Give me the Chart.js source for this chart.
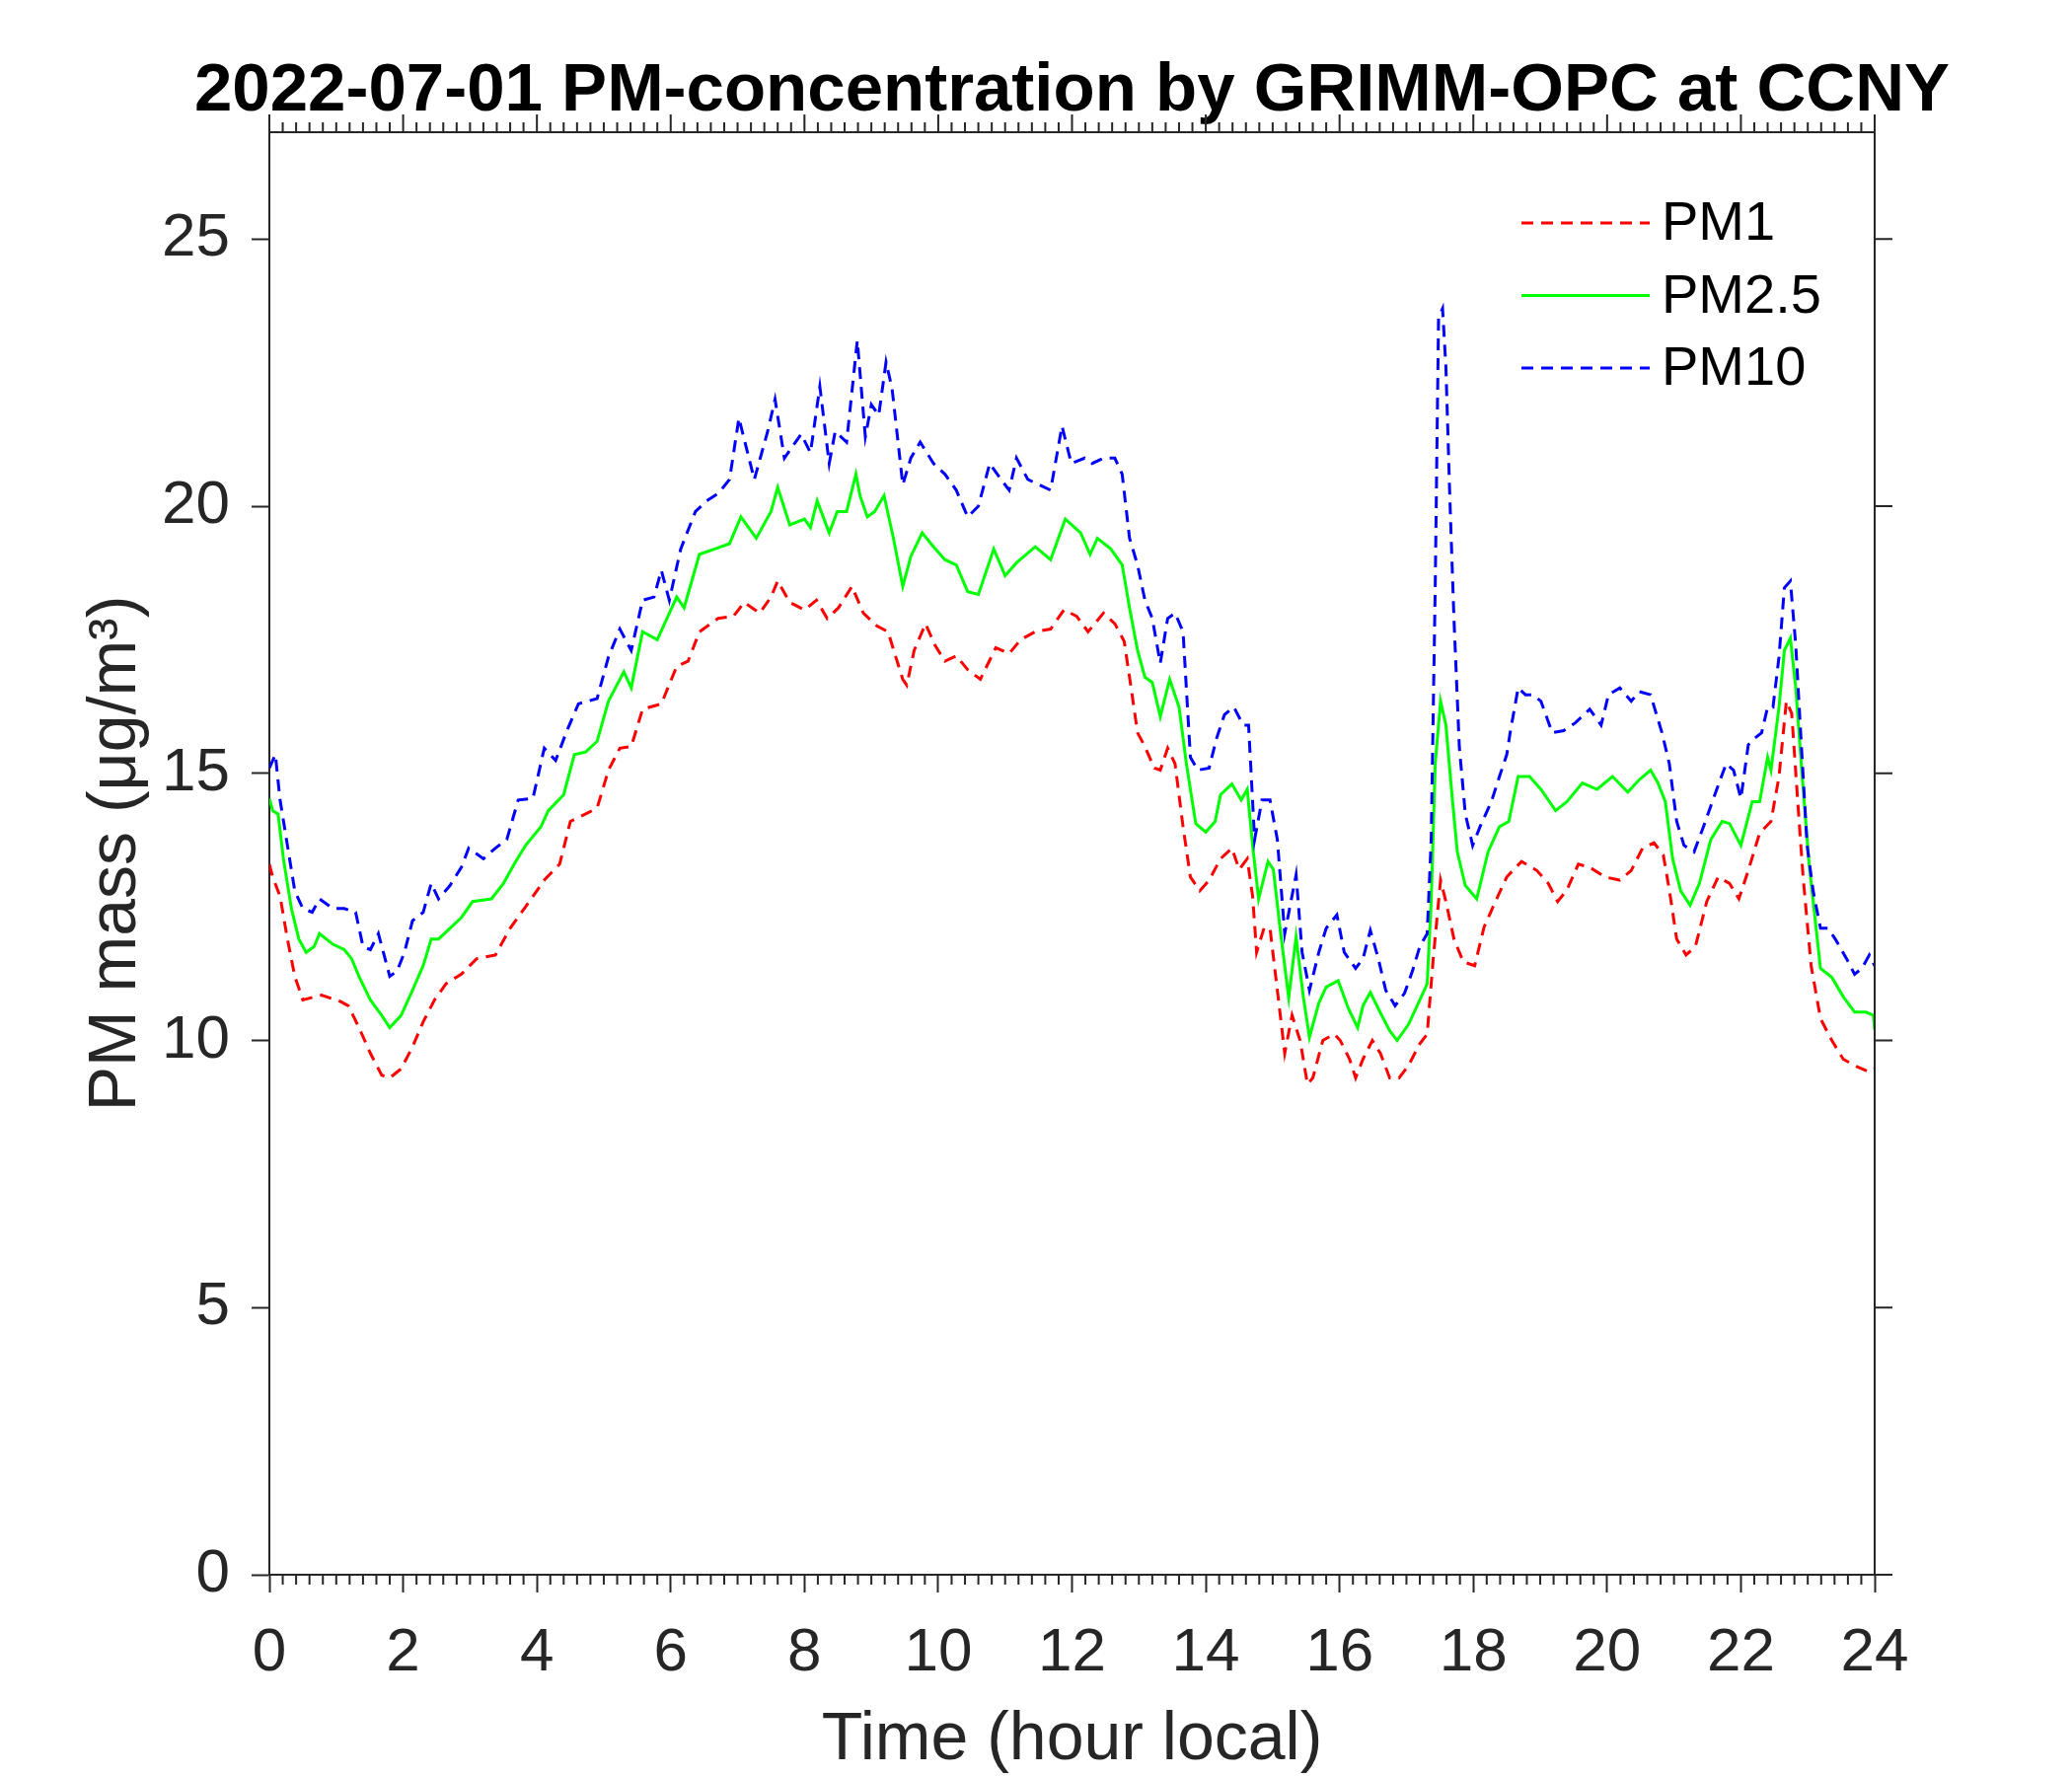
<!DOCTYPE html>
<html>
<head>
<meta charset="utf-8">
<script src="https://cdn.jsdelivr.net/npm/chart.js@4.4.1/dist/chart.umd.min.js"></script>
<style>html,body{margin:0;padding:0;background:#fff}</style>
</head>
<body>
<canvas id="c" width="2100" height="1800"></canvas>
<script>
// PM1 (red dashed)
const hoursPM1 = [0,0.05,0.16,0.27,0.38,0.5,0.78,1.06,1.18,1.34,1.51,1.68,1.8,1.97,2.14,2.3,2.47,2.64,2.87,3.1,3.38,3.6,3.83,4.11,4.34,4.5,4.73,4.9,5.07,5.24,5.41,5.58,5.86,6.09,6.26,6.43,6.71,6.94,7.1,7.33,7.5,7.6,
  7.78,8.0,8.18,8.34,8.51,8.71,8.88,9.08,9.25,9.36,9.47,9.53,9.64,9.81,9.95,10.1,10.27,10.44,10.63,10.86,11.06,11.23,11.45,11.68,11.88,12.07,12.24,12.47,12.64,12.78,12.86,12.98,13.09,13.23,13.32,13.43,13.54,13.66,13.77,13.91,14.05,14.22,14.39,14.5,14.62,14.7,14.76,14.87,14.96,15.07,15.18,15.29,15.41,15.52,15.6,15.75,15.92,
  16.01,16.15,16.24,16.35,16.49,16.61,16.75,16.89,17.03,17.2,17.31,17.4,17.51,17.59,17.71,17.85,18.02,18.16,18.33,18.5,18.72,18.95,19.12,19.26,19.4,19.57,19.74,19.97,20.19,20.36,20.53,20.7,20.84,20.93,21.04,21.18,21.32,21.49,21.66,21.83,21.97,22.11,22.28,22.45,22.57,22.68,22.76,22.85,22.93,23.05,23.19,23.36,23.53,23.7,23.92,24];
const pm1 = [13.3,13.06,12.7,11.9,11.2,10.76,10.85,10.73,10.65,10.24,9.76,9.35,9.3,9.47,9.88,10.35,10.76,11.06,11.24,11.53,11.6,12.1,12.5,13.0,13.3,14.1,14.24,14.35,15.06,15.47,15.5,16.2,16.3,17.0,17.1,17.65,17.9,17.94,18.2,18.0,18.3,18.6,
  18.2,18.06,18.24,17.9,18.1,18.5,18.0,17.76,17.65,17.2,16.76,16.65,17.3,17.8,17.4,17.1,17.2,16.94,16.76,17.35,17.24,17.5,17.65,17.7,18.06,17.94,17.65,18.0,17.8,17.47,16.8,15.76,15.5,15.1,15.06,15.47,15.18,14.0,13.06,12.8,13.0,13.4,13.6,13.2,13.4,12.7,11.65,12.1,12.1,10.94,9.76,10.47,10.0,9.18,9.3,10.0,10.12,
  10.0,9.65,9.3,9.65,10.0,9.76,9.3,9.3,9.53,9.94,10.12,11.53,13.0,12.6,11.9,11.47,11.4,12.12,12.6,13.06,13.35,13.18,12.94,12.6,12.82,13.3,13.24,13.06,13.0,13.18,13.6,13.7,13.47,12.82,11.9,11.6,11.76,12.6,13.06,12.94,12.65,13.18,13.88,14.1,14.94,16.35,16.12,14.47,13.06,11.4,10.41,10.0,9.65,9.53,9.41,9.47];

// PM2.5 (green solid)
const hoursPM25 = [0,0.05,0.13,0.21,0.33,0.44,0.55,0.67,0.75,0.95,1.12,1.23,1.34,1.51,1.68,1.8,1.97,2.14,2.3,2.42,2.53,2.7,2.87,3.04,3.32,3.5,3.66,3.83,4.06,4.17,4.4,4.56,4.73,4.9,5.07,5.3,5.41,5.58,5.8,5.98,6.09,6.2,6.43,6.66,6.88,7.05,7.28,7.5,7.6,
  7.78,8.0,8.09,8.19,8.37,8.49,8.63,8.77,8.83,8.94,9.05,9.19,9.33,9.47,9.59,9.76,9.93,10.1,10.27,10.44,10.6,10.75,10.83,11.0,11.17,11.45,11.68,11.9,12.13,12.27,12.38,12.58,12.75,12.86,12.98,13.09,13.2,13.32,13.46,13.6,13.71,13.85,14.0,14.14,14.22,14.39,14.53,14.62,14.7,14.79,14.93,15.01,15.12,15.24,15.35,15.46,15.55,15.69,15.8,
  15.98,16.13,16.27,16.35,16.46,16.63,16.75,16.86,17.03,17.2,17.31,17.37,17.43,17.51,17.59,17.68,17.76,17.88,18.05,18.22,18.39,18.53,18.67,18.84,19.01,19.23,19.4,19.63,19.85,20.08,20.31,20.48,20.65,20.76,20.87,20.98,21.1,21.24,21.38,21.55,21.72,21.83,22.0,22.17,22.28,22.4,22.45,22.57,22.65,22.74,22.82,22.91,23.02,23.19,23.36,23.53,23.7,23.87,23.98,24];
const pm25 = [14.53,14.3,14.24,13.4,12.47,11.9,11.65,11.76,12.0,11.8,11.7,11.53,11.2,10.76,10.47,10.24,10.47,10.94,11.4,11.9,11.9,12.1,12.3,12.6,12.65,12.94,13.3,13.65,14.0,14.3,14.6,15.35,15.4,15.6,16.35,16.9,16.6,17.65,17.5,18.0,18.3,18.1,19.1,19.2,19.3,19.8,19.4,19.9,20.35,
  19.65,19.76,19.6,20.1,19.5,19.9,19.9,20.6,20.2,19.8,19.9,20.2,19.4,18.5,19.06,19.5,19.24,19.0,18.9,18.4,18.35,18.9,19.2,18.7,18.94,19.24,19.0,19.76,19.5,19.1,19.4,19.2,18.9,18.1,17.3,16.8,16.7,16.06,16.76,16.24,15.18,14.06,13.9,14.1,14.6,14.8,14.5,14.7,13.65,12.65,13.35,13.2,12.0,10.8,11.94,10.8,10.06,10.7,11.0,
  11.12,10.6,10.24,10.65,10.9,10.47,10.18,10.0,10.3,10.76,11.06,12.6,15.18,16.35,15.9,14.6,13.53,12.9,12.65,13.53,14.0,14.1,14.94,14.94,14.7,14.3,14.47,14.82,14.7,14.94,14.65,14.88,15.06,14.82,14.47,13.4,12.8,12.53,12.94,13.76,14.1,14.06,13.65,14.47,14.47,15.3,15.06,16.24,17.3,17.53,16.6,15.06,13.3,11.35,11.18,10.82,10.53,10.53,10.47,10.2];

// PM10 (blue dashed)
const hoursPM10 = [0,0.09,0.16,0.27,0.38,0.5,0.64,0.75,0.95,1.12,1.29,1.4,1.51,1.63,1.8,1.91,2.02,2.14,2.3,2.42,2.53,2.7,2.87,2.98,3.2,3.38,3.55,3.72,3.94,4.11,4.28,4.45,4.62,4.9,5.07,5.24,5.41,5.58,5.75,5.86,5.98,6.15,6.37,6.54,6.71,6.88,7.02,7.25,7.45,7.56,7.7,
  7.95,8.09,8.23,8.37,8.46,8.63,8.79,8.91,9.0,9.11,9.22,9.31,9.47,9.59,9.73,9.93,10.1,10.27,10.44,10.6,10.77,10.94,11.06,11.17,11.34,11.51,11.68,11.85,11.99,12.19,12.3,12.47,12.64,12.75,12.86,12.98,13.09,13.2,13.32,13.43,13.54,13.66,13.77,13.88,14.05,14.16,14.28,14.42,14.56,14.64,14.73,14.84,14.96,15.07,15.18,15.35,15.44,15.55,15.69,15.8,
  15.96,16.07,16.24,16.35,16.46,16.58,16.69,16.83,16.97,17.09,17.2,17.31,17.37,17.43,17.48,17.54,17.59,17.65,17.71,17.79,17.88,17.99,18.1,18.27,18.39,18.5,18.55,18.67,18.78,18.89,19.01,19.18,19.35,19.52,19.74,19.91,20.02,20.19,20.36,20.48,20.65,20.82,20.93,21.04,21.15,21.3,21.44,21.61,21.78,21.89,22.0,22.11,22.2,22.31,22.4,22.48,22.57,22.65,22.74,22.82,22.91,22.99,23.08,23.19,23.3,23.41,23.58,23.7,23.81,23.92,24];
const pm10 = [15.1,15.35,14.5,13.65,12.8,12.47,12.4,12.65,12.47,12.47,12.4,11.76,11.7,12.0,11.2,11.3,11.65,12.24,12.4,12.94,12.65,12.9,13.24,13.6,13.4,13.6,13.76,14.5,14.53,15.47,15.24,15.8,16.3,16.4,17.18,17.7,17.3,18.24,18.3,18.8,18.24,19.2,19.9,20.1,20.24,20.5,21.65,20.5,21.4,22.0,20.9,
  21.35,21.0,22.24,20.8,21.4,21.2,23.1,21.3,21.9,21.7,22.7,22.2,20.4,20.9,21.2,20.8,20.6,20.3,19.8,20.0,20.8,20.5,20.3,20.9,20.5,20.4,20.3,21.5,20.8,20.9,20.8,20.9,20.9,20.6,19.4,18.9,18.24,17.9,17.06,17.9,18.0,17.65,15.3,15.06,15.1,15.65,16.1,16.24,15.9,15.9,13.76,14.5,14.5,13.76,12.0,13.1,11.65,10.94,11.65,12.1,
  12.35,11.65,11.35,11.53,12.06,11.53,10.94,10.65,10.88,11.3,11.76,12.0,13.76,18.47,23.53,23.7,22.6,20.1,17.9,15.5,14.24,13.65,14.0,14.47,14.94,15.35,15.76,16.6,16.47,16.47,16.35,15.76,15.8,15.94,16.2,15.9,16.47,16.6,16.35,16.53,16.47,15.76,15.18,14.1,13.65,13.53,14.0,14.6,15.18,15.06,14.53,15.53,15.65,15.76,16.24,16.24,17.18,18.47,18.6,17.4,15.4,13.65,12.8,12.1,12.1,11.9,11.53,11.24,11.35,11.6,11.4];

const seriesNames = ['PM1', 'PM2.5', 'PM10'];
const xTicks = [0,2,4,6,8,10,12,14,16,18,20,22,24];
const yTicks = [0,5,10,15,20,25];
const chartTitle = '2022-07-01 PM-concentration by GRIMM-OPC at CCNY';

const AX = '#262626';
const FONT = "'Liberation Sans', Arial, Helvetica, sans-serif";

function pts(h, v){ return h.map((t,i)=>({x:t, y:v[i]})); }

// title, box outline, top/right ticks, minor x ticks, legend
const frame = {
  id: 'frame',
  afterDraw(chart){
    const {ctx, chartArea:a, scales:{x, y}} = chart;
    ctx.save();
    // title centred over the plot box (wider than the box, so drawn here)
    ctx.fillStyle = '#000';
    ctx.font = 'bold 69px ' + FONT;
    ctx.textAlign = 'center';
    ctx.textBaseline = 'middle';
    ctx.fillText(chartTitle, (a.left + a.right)/2, 93);

    ctx.strokeStyle = AX;
    ctx.lineWidth = 2;
    ctx.beginPath();
    ctx.moveTo(a.left, a.top); ctx.lineTo(a.right, a.top);
    ctx.moveTo(a.right, a.top); ctx.lineTo(a.right, a.bottom);
    // top major ticks
    xTicks.forEach(t=>{ const px = x.getPixelForValue(t); ctx.moveTo(px, a.top); ctx.lineTo(px, a.top-18); });
    // minor x ticks every 0.2 h
    for(let i=0;i<=120;i++){
      if(i%10===0) continue;
      const px = x.getPixelForValue(i/5);
      ctx.moveTo(px, a.top); ctx.lineTo(px, a.top-10);
      ctx.moveTo(px, a.bottom); ctx.lineTo(px, a.bottom+10);
    }
    // right ticks
    yTicks.forEach(t=>{ const py = y.getPixelForValue(t); ctx.moveTo(a.right, py); ctx.lineTo(a.right+18, py); });
    ctx.stroke();

    // legend
    const lx0 = a.right - 358, lx1 = a.right - 228, tx = a.right - 216;
    chart.data.datasets.forEach((ds,k)=>{
      const ly = a.top + 92 + k*73.5;
      ctx.beginPath();
      ctx.strokeStyle = ds.borderColor;
      ctx.lineWidth = ds.borderWidth;
      ctx.setLineDash(ds.borderDash || []);
      ctx.moveTo(lx0, ly); ctx.lineTo(lx1, ly);
      ctx.stroke();
      ctx.setLineDash([]);
      ctx.fillStyle = '#000';
      ctx.font = '56px ' + FONT;
      ctx.textBaseline = 'middle';
      ctx.textAlign = 'left';
      ctx.fillText(ds.label, tx, ly + 2);
    });
    ctx.restore();
  }
};

new Chart(document.getElementById('c'), {
  type: 'line',
  data: {
    datasets: [
      {label: seriesNames[0], data: pts(hoursPM1, pm1), borderColor:'#FF0000', borderWidth:3, borderDash:[12,8], pointRadius:0, tension:0, order:3},
      {label: seriesNames[1], data: pts(hoursPM25, pm25), borderColor:'#00FF00', borderWidth:3, pointRadius:0, tension:0, order:2},
      {label: seriesNames[2], data: pts(hoursPM10, pm10), borderColor:'#0000FF', borderWidth:3, borderDash:[12,8], pointRadius:0, tension:0, order:1},
    ]
  },
  options: {
    responsive: false,
    devicePixelRatio: 1,
    animation: false,
    layout: {padding: {top: 134, right: 200}},
    plugins: {
      legend: {display: false},
      tooltip: {enabled: false},
      title: {display: false}
    },
    scales: {
      x: {
        type: 'linear', min: 0, max: 24,
        afterFit(s){ s.height = 204; },
        afterBuildTicks(s){ s.ticks = xTicks.map(v=>({value:v})); },
        ticks: {color: AX, font: {family: FONT, size: 62, lineHeight: 1}, padding: 31, maxRotation: 0, autoSkip: false},
        grid: {drawOnChartArea: false, drawTicks: true, tickLength: 18, tickWidth: 2, tickColor: AX},
        border: {display: true, color: AX, width: 2},
        title: {display: true, text: 'Time (hour local)', color: AX, font: {family: FONT, size: 68, lineHeight: 1}, padding: {top: 0, bottom: 2}}
      },
      y: {
        type: 'linear', min: 0, max: 27,
        afterFit(s){ s.width = 273; },
        afterBuildTicks(s){ s.ticks = yTicks.map(v=>({value:v})); },
        ticks: {color: AX, font: {family: FONT, size: 62, lineHeight: 1}, padding: 22},
        grid: {drawOnChartArea: false, drawTicks: true, tickLength: 18, tickWidth: 2, tickColor: AX},
        border: {display: true, color: AX, width: 2},
        title: {display: true, text: 'PM mass (μg/m³)', color: AX, font: {family: FONT, size: 68, lineHeight: 1}, padding: {top: 84, bottom: 0}}
      }
    }
  },
  plugins: [frame]
});
</script>
</body>
</html>
